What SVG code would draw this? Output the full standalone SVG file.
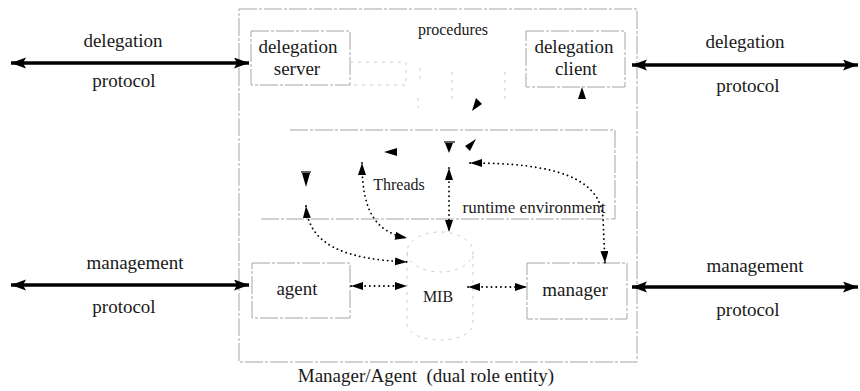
<svg xmlns="http://www.w3.org/2000/svg" width="860" height="391" viewBox="0 0 860 391">
  <style>
    .frame { fill: none; stroke: #a6a6a6; stroke-width: 1; stroke-dasharray: 18 2 3 2; }
    .faint { fill: none; stroke: #cccccc; stroke-width: 1; stroke-dasharray: 3 5; }
    .dot { fill: none; stroke: #000; stroke-width: 1.8; stroke-dasharray: 0.1 4.6; stroke-linecap: round; }
    .thick { fill: none; stroke: #000; stroke-width: 3.5; }
    .head { fill: #000; stroke: none; }
    .lbl { font-family: "Liberation Serif", "Times New Roman", serif; fill: #1a1a1a; text-anchor: middle; }
    .big { font-size: 19px; }
    .small { font-size: 16px; }
  </style>
  <defs>
    <marker id="tip" markerUnits="userSpaceOnUse" markerWidth="13" markerHeight="9" refX="12" refY="4" orient="auto-start-reverse">
      <path d="M0,0 L12,4 L0,8 Z" fill="#000"/>
    </marker>
    <marker id="bigtip" markerUnits="userSpaceOnUse" markerWidth="16" markerHeight="12" refX="15" refY="5.5" orient="auto-start-reverse">
      <path d="M0,0 L15,5.5 L0,11 L3,5.5 Z" fill="#000"/>
    </marker>
  </defs>

  <rect width="860" height="391" fill="#fff"/>

  <!-- dual role entity frame -->
  <g id="entity">
    <rect class="frame" x="239" y="9" width="398" height="353"/>
    <text class="lbl big" x="426" y="382" xml:space="preserve">Manager/Agent  (dual role entity)</text>
  </g>

  <g id="delegation-server">
    <rect class="frame" x="251" y="31" width="99" height="54"/>
    <path class="faint" d="M350,62 H406 V85 H350"/>
    <text class="lbl big" x="298" y="53">delegation</text>
    <text class="lbl big" x="297" y="75">server</text>
  </g>

  <g id="procedures">
    <path class="faint" d="M420,68 V80 M452,72 V100 M505,72 V100 M418,98 V108"/>
    <text class="lbl small" x="453" y="35">procedures</text>
  </g>

  <g id="delegation-client">
    <rect class="frame" x="526" y="31" width="99" height="56"/>
    <text class="lbl big" x="574" y="53">delegation</text>
    <text class="lbl big" x="576" y="75">client</text>
  </g>

  <g id="runtime">
    <path class="frame" d="M290,130 H615 V219 H261"/>
    <text class="lbl small" x="399" y="190">Threads</text>
    <text class="lbl" style="font-size:17px" x="534" y="213">runtime environment</text>
  </g>

  <g id="agent">
    <rect class="frame" x="252" y="263" width="98" height="55"/>
    <text class="lbl big" x="297" y="295">agent</text>
  </g>

  <g id="mib">
    <path class="faint" d="M407,252 V324 A33,16 0 0 0 473,324 V252"/>
    <ellipse class="faint" cx="440" cy="252" rx="33" ry="20"/>
    <text class="lbl small" x="438" y="302">MIB</text>
  </g>

  <g id="manager">
    <rect class="frame" x="527" y="263" width="100" height="56"/>
    <text class="lbl big" x="575" y="296">manager</text>
  </g>

  <!-- protocol labels -->
  <g id="protocols">
    <text class="lbl big" x="123" y="47">delegation</text>
    <text class="lbl big" x="124" y="87">protocol</text>
    <text class="lbl big" x="745" y="48">delegation</text>
    <text class="lbl big" x="748" y="92">protocol</text>
    <text class="lbl big" x="135" y="269">management</text>
    <text class="lbl big" x="124" y="313">protocol</text>
    <text class="lbl big" x="755" y="272">management</text>
    <text class="lbl big" x="748" y="316">protocol</text>
  </g>

  <g id="connectors">
    <!-- external protocol links -->
    <line class="thick" x1="11" y1="63" x2="249" y2="63" marker-start="url(#bigtip)" marker-end="url(#bigtip)"/>
    <line class="thick" x1="632" y1="65" x2="858" y2="65" marker-start="url(#bigtip)" marker-end="url(#bigtip)"/>
    <line class="thick" x1="11" y1="285" x2="249" y2="285" marker-start="url(#bigtip)" marker-end="url(#bigtip)"/>
    <line class="thick" x1="632" y1="287" x2="858" y2="287" marker-start="url(#bigtip)" marker-end="url(#bigtip)"/>

    <!-- MIB access -->
    <line class="dot" x1="351" y1="286" x2="407" y2="286" marker-start="url(#tip)" marker-end="url(#tip)"/>
    <line class="dot" x1="468" y1="287" x2="527" y2="287" marker-start="url(#tip)" marker-end="url(#tip)"/>

    <!-- thread links -->
    <line class="dot" x1="449" y1="168" x2="449" y2="232" marker-start="url(#tip)" marker-end="url(#tip)"/>
    <path class="dot" d="M362,163 C362,212 376,232 407,238" marker-start="url(#tip)" marker-end="url(#tip)"/>
    <path class="dot" d="M306,206 C309,246 346,259 407,262" marker-start="url(#tip)" marker-end="url(#tip)"/>
    <path class="dot" d="M470,163 C556,163 600,178 603,218 L605,263" marker-start="url(#tip)" marker-end="url(#tip)"/>

    <!-- loose arrowheads -->
    <polygon class="head" points="384,152 397,148 397,156"/>
    <path d="M444,142 H455" stroke="#000" stroke-width="1.2"/>
    <polygon class="head" points="445,143 453,143 449,153"/>
    <polygon class="head" points="476,139 465,146 470,151"/>
    <polygon class="head" points="472,111 476,98 482,104"/>
    <polygon class="head" points="582,87 578,99 586,99"/>
    <path d="M301,172 H311" stroke="#000" stroke-width="1.2"/>
    <polygon class="head" points="302,173 310,173 306,187"/>
  </g>
</svg>
